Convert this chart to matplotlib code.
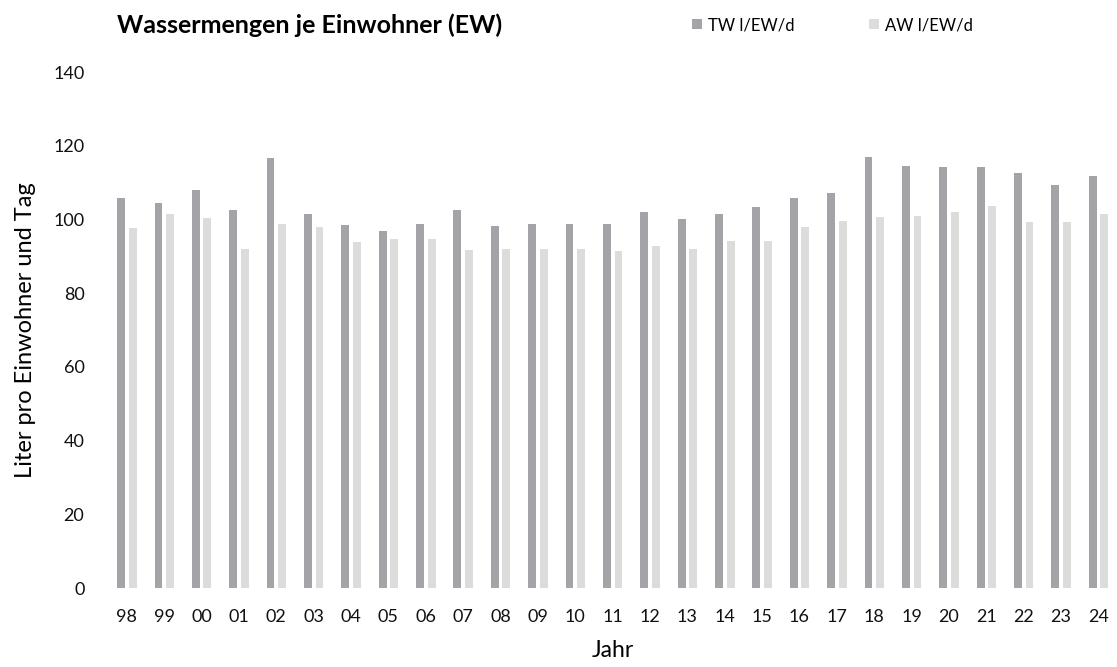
import numpy as np
import matplotlib.pyplot as plt

plt.rcParams['font.family'] = ['Lato', 'DejaVu Sans']

# Jahre (zweistellig) und Werte in Liter pro Einwohner und Tag
jahre = ['98', '99', '00', '01', '02', '03', '04', '05', '06', '07', '08', '09', '10',
         '11', '12', '13', '14', '15', '16', '17', '18', '19', '20', '21', '22', '23', '24']
tw = [105.7, 104.4, 108.0, 102.5, 116.6, 101.6, 98.5, 96.9, 98.8, 102.5, 98.2, 98.8, 98.9,
      98.8, 101.9, 100.0, 101.6, 103.3, 105.9, 107.3, 117.0, 114.5, 114.3, 114.1, 112.5, 109.3, 111.9]
aw = [97.6, 101.6, 100.3, 91.9, 98.8, 98.0, 94.0, 94.6, 94.6, 91.7, 91.9, 91.9, 92.0,
      91.4, 92.8, 92.0, 94.1, 94.2, 98.0, 99.7, 100.7, 101.0, 102.1, 103.7, 99.2, 99.4, 101.6]

x = np.arange(len(jahre))
w = 0.21

fig = plt.figure(figsize=(11.17, 6.67), dpi=100)
ax = fig.add_axes([0.0967, 0.1184, 0.9033, 0.7736])

b1 = ax.bar(x - 0.15, tw, w, color='#a3a3a8', label='TW l/EW/d')
b2 = ax.bar(x + 0.16, aw, w, color='#dcdcdc', label='AW l/EW/d')

ax.set_xlim(-0.5, len(jahre) - 0.5)
ax.set_ylim(0, 140)
ax.set_yticks(range(0, 141, 20))
ax.set_xticks(x)
ax.set_xticklabels(jahre)
ax.tick_params(axis='both', length=0, labelsize=13, colors='#111111')
ax.tick_params(axis='x', pad=15)
ax.tick_params(axis='y', pad=17)
for s in ax.spines.values():
    s.set_visible(False)

ax.set_xlabel('Jahr', fontsize=16.5, labelpad=11)
ax.set_ylabel('Liter pro Einwohner und Tag', fontsize=17, labelpad=12)

fig.text(0.105, 0.9625, 'Wassermengen je Einwohner (EW)', fontsize=18, fontweight='bold',
         va='center', ha='left')

fig.legend(handles=[b1, b2], loc='center left', bbox_to_anchor=(0.612, 0.9625), ncol=2,
           frameon=False, fontsize=12, handlelength=0.6, handleheight=0.6,
           handletextpad=0.35, columnspacing=4.5, borderpad=0)

fig.savefig('out.png', dpi=100)
